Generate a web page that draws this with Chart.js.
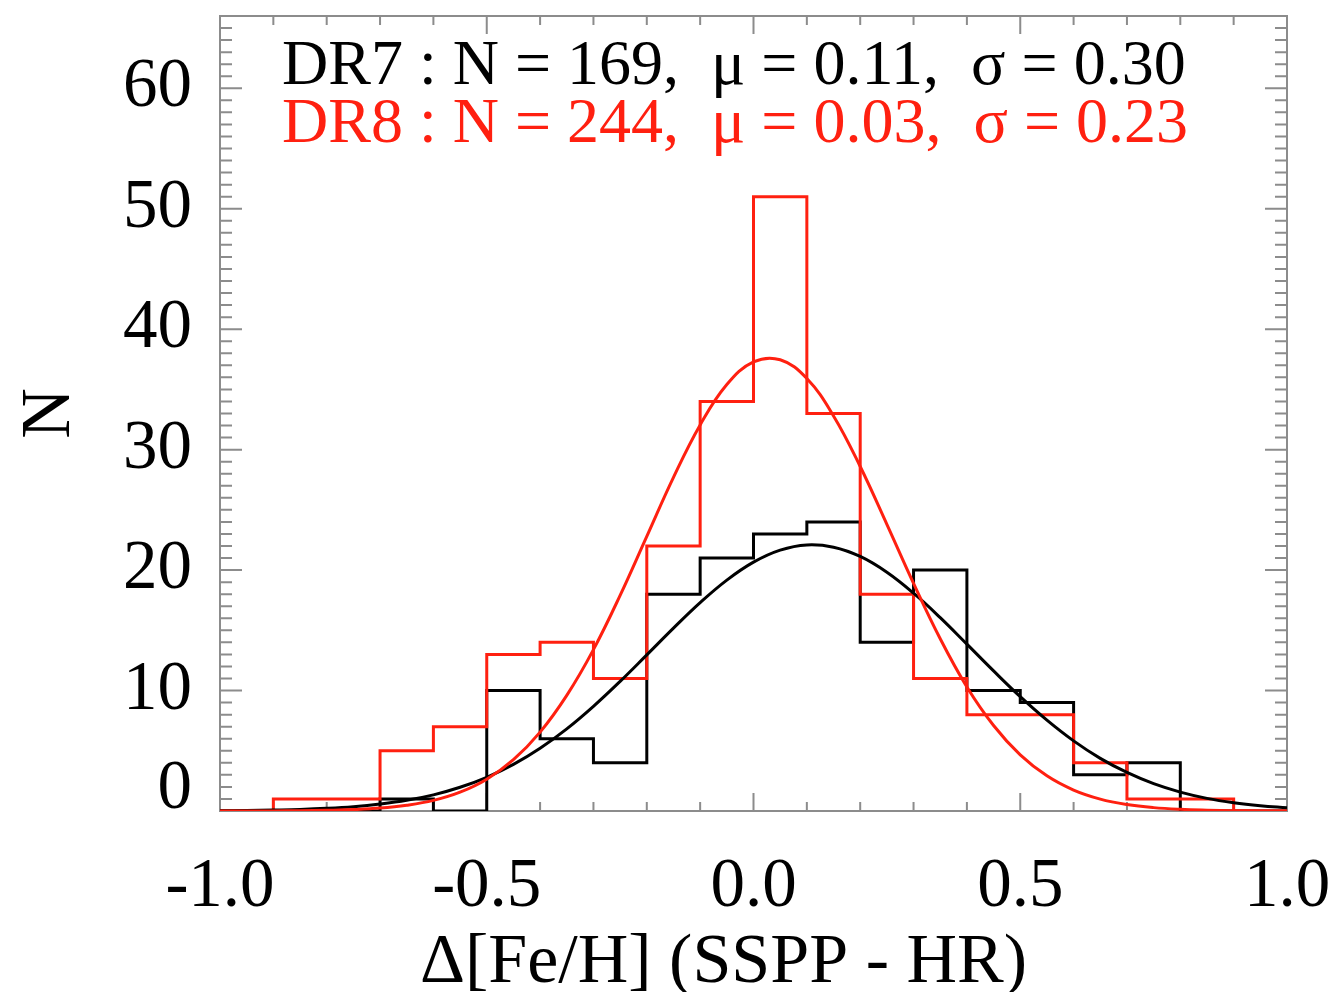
<!DOCTYPE html>
<html>
<head>
<meta charset="utf-8">
<title>Delta [Fe/H] histogram</title>
<script src="https://cdn.jsdelivr.net/npm/chart.js@4.4.0/dist/chart.umd.min.js"></script>
<style>
  html, body { margin: 0; padding: 0; background: #fff; }
  #wrap { width: 1336px; height: 992px; }
</style>
</head>
<body>
<div id="wrap"><canvas id="chartFeH"></canvas></div>
<script>
// histogram bin edges (0.1 wide)
var binEdges = [-1.0, -0.9, -0.8, -0.7, -0.6, -0.5, -0.4, -0.3, -0.2, -0.1,
                0.0, 0.1, 0.2, 0.3, 0.4, 0.5, 0.6, 0.7, 0.8, 0.9, 1.0];
// counts per bin
var dr7Counts = [0, 0, 0, 1, 0, 10, 6, 4, 18, 21, 23, 24, 14, 20, 10, 9, 3, 4, 0, 0];
var dr8Counts = [0, 1, 1, 5, 7, 13, 14, 11, 22, 34, 51, 33, 18, 11, 8, 8, 4, 1, 1, 0];

// gaussian fit curves, every 0.05
var fitX = [-1.0, -0.95, -0.9, -0.85, -0.8, -0.75, -0.7, -0.65, -0.6, -0.55,
            -0.5, -0.45, -0.4, -0.35, -0.3, -0.25, -0.2, -0.15, -0.1, -0.05,
            0.0, 0.05, 0.1, 0.15, 0.2, 0.25, 0.3, 0.35, 0.4, 0.45,
            0.5, 0.55, 0.6, 0.65, 0.7, 0.75, 0.8, 0.85, 0.9, 0.95, 1.0];
var dr7Fit = [0.02, 0.04, 0.08, 0.13, 0.22, 0.36, 0.58, 0.89, 1.34, 1.97,
              2.80, 3.87, 5.21, 6.82, 8.69, 10.76, 12.96, 15.18, 17.30, 19.17,
              20.66, 21.66, 22.09, 21.90, 21.13, 19.82, 18.08, 16.05, 13.85, 11.63,
              9.49, 7.54, 5.82, 4.37, 3.20, 2.27, 1.57, 1.05, 0.69, 0.44, 0.27];
var dr8Fit = [0.00, 0.00, 0.01, 0.02, 0.06, 0.12, 0.24, 0.48, 0.88, 1.56,
              2.64, 4.26, 6.55, 9.60, 13.4, 17.9, 22.8, 27.7, 32.05, 35.4,
              37.28, 37.46, 35.9, 32.8, 28.6, 23.8, 18.9, 14.3, 10.3, 7.1,
              4.66, 2.92, 1.74, 0.99, 0.54, 0.28, 0.14, 0.07, 0.03, 0.01, 0.00];

// axes
var xMajorTicks = [-1.0, -0.5, 0.0, 0.5, 1.0];
var yMajorTicks = [0, 10, 20, 30, 40, 50, 60];
var xRange = [-1.0, 1.0];
var yRange = [0, 66];

// stats text
var statLines = [
  { text: 'DR7 : N = 169,  \u03bc = 0.11,  \u03c3 = 0.30', color: '#000000' },
  { text: 'DR8 : N = 244,  \u03bc = 0.03,  \u03c3 = 0.23', color: '#ff2010' }
];

var RED = '#ff2010';
var FONT = '"Liberation Serif", "Times New Roman", serif';

// histogram outline points, value of bin i holds from edge i to edge i+1
function histPoints(counts){
  var pts = counts.map(function(c, i){ return { x: binEdges[i], y: c }; });
  pts.push({ x: binEdges[binEdges.length - 1], y: counts[counts.length - 1] });
  return pts;
}
function curvePoints(values){
  return values.map(function(v, i){ return { x: fitX[i], y: v }; });
}

// frame with inward ticks on all four sides
var frameTicks = {
  id: 'frameTicks',
  beforeDatasetsDraw: function(chart){
    var ctx = chart.ctx, a = chart.chartArea;
    var xs = chart.scales.x, ys = chart.scales.y;
    ctx.save();
    ctx.strokeStyle = '#8c8c8c';
    ctx.lineWidth = 2;
    ctx.strokeRect(a.left, a.top, a.right - a.left, a.bottom - a.top);
    ctx.beginPath();
    var i, v, px, len;
    for (i = 0; i <= 20; i++) {
      v = xRange[0] + i * 0.1;
      px = xs.getPixelForValue(v);
      len = (i % 5 === 0) ? 18 : 9;
      ctx.moveTo(px, a.bottom); ctx.lineTo(px, a.bottom - len);
      ctx.moveTo(px, a.top); ctx.lineTo(px, a.top + len);
    }
    for (v = yRange[0]; v <= yRange[1]; v++) {
      px = ys.getPixelForValue(v);
      len = (v % 10 === 0) ? 22 : 12;
      ctx.moveTo(a.left, px); ctx.lineTo(a.left + len, px);
      ctx.moveTo(a.right, px); ctx.lineTo(a.right - len, px);
    }
    ctx.stroke();
    ctx.restore();
  },
  afterDraw: function(chart){
    var ctx = chart.ctx, a = chart.chartArea;
    ctx.save();
    // stats lines
    ctx.font = '64px ' + FONT;
    ctx.textAlign = 'left';
    ctx.textBaseline = 'alphabetic';
    statLines.forEach(function(line, i){
      ctx.fillStyle = line.color;
      ctx.fillText(line.text, a.left + 62, a.top + 68 + i * 58);
    });
    // x axis title
    ctx.fillStyle = '#000';
    ctx.font = '70px ' + FONT;
    ctx.textAlign = 'center';
    ctx.fillText('\u0394[Fe/H] (SSPP - HR)', (a.left + a.right) / 2 - 30, a.bottom + 171);
    ctx.restore();
  }
};

var ctx = document.getElementById('chartFeH');
new Chart(ctx, {
  type: 'line',
  data: {
    datasets: [
      { label: 'DR8 fit', data: curvePoints(dr8Fit), borderColor: RED, borderWidth: 3,
        pointRadius: 0, tension: 0.4, fill: false },
      { label: 'DR7 fit', data: curvePoints(dr7Fit), borderColor: '#000', borderWidth: 3,
        pointRadius: 0, tension: 0.4, fill: false },
      { label: 'DR8', data: histPoints(dr8Counts), borderColor: RED, borderWidth: 3,
        pointRadius: 0, stepped: 'before', fill: false },
      { label: 'DR7', data: histPoints(dr7Counts), borderColor: '#000', borderWidth: 3,
        pointRadius: 0, stepped: 'before', fill: false }
    ]
  },
  options: {
    responsive: true,
    maintainAspectRatio: false,
    animation: false,
    layout: { padding: { left: 0, right: 49, top: 16, bottom: 0 } },
    plugins: {
      legend: { display: false },
      tooltip: { enabled: false }
    },
    scales: {
      x: {
        type: 'linear',
        min: xRange[0],
        max: xRange[1],
        grid: { display: false },
        border: { display: false },
        afterBuildTicks: function(scale){
          scale.ticks = xMajorTicks.map(function(v){ return { value: v }; });
        },
        afterFit: function(scale){
          scale.height = 181;
          scale.paddingLeft = 0;
          scale.paddingRight = 0;
        },
        ticks: {
          color: '#000',
          padding: 27,
          maxRotation: 0,
          autoSkip: false,
          font: { family: FONT, size: 69 },
          callback: function(v){ return Number(v).toFixed(1); }
        }
      },
      y: {
        type: 'linear',
        min: yRange[0],
        max: yRange[1],
        grid: { display: false },
        border: { display: false },
        afterBuildTicks: function(scale){
          scale.ticks = yMajorTicks.map(function(v){ return { value: v }; });
        },
        afterFit: function(scale){
          scale.width = 220;
          scale.paddingTop = 0;
          scale.paddingBottom = 0;
        },
        title: {
          display: true,
          text: 'N',
          color: '#000',
          padding: { top: 9, bottom: 0 },
          font: { family: FONT, size: 70 }
        },
        ticks: {
          color: '#000',
          padding: 20,
          autoSkip: false,
          // the 0 label sits a bit above the axis
          font: function(c){
            if (c.tick && c.tick.value === 0) return { family: FONT, size: 69, lineHeight: '42px' };
            return { family: FONT, size: 69 };
          },
          callback: function(v){ return v === 0 ? ['0', ''] : String(v); }
        }
      }
    }
  },
  plugins: [frameTicks]
});
</script>
</body>
</html>
